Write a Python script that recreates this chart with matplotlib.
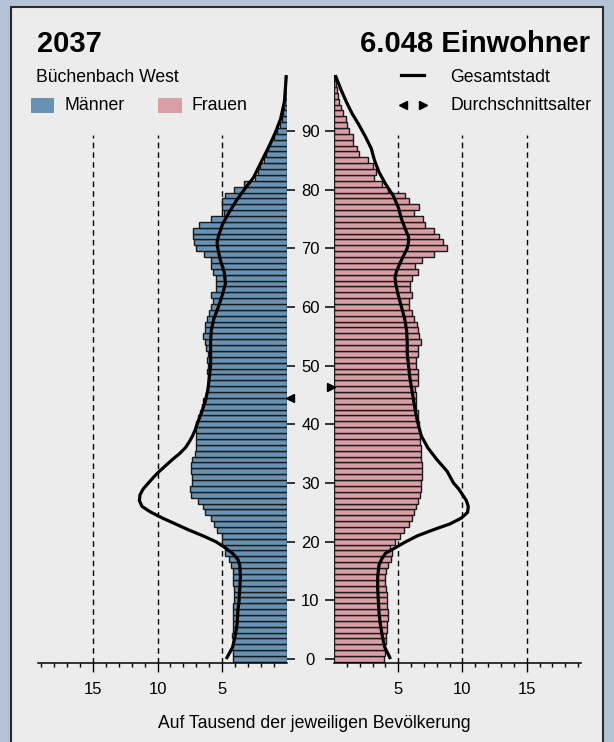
import matplotlib.pyplot as plt
from matplotlib.patches import Rectangle
from matplotlib.lines import Line2D
from matplotlib.transforms import blended_transform_factory

plt.rcParams['font.family'] = ['Liberation Sans', 'DejaVu Sans']

# Per-mille share of each age year, 0..99 (Büchenbach West, 2037)
ages = list(range(100))
male = [4.15, 4.2, 4.25, 4.2, 4.25, 4.2, 4.2, 4.2, 4.2, 4.15,
        4.1, 4.1, 4.1, 4.2, 4.15, 4.2, 4.35, 4.5, 4.75, 4.8,
        5.05, 5.05, 5.4, 5.6, 5.9, 6.35, 6.45, 6.9, 7.4, 7.5,
        7.35, 7.35, 7.4, 7.4, 7.3, 7.1, 7.05, 7.05, 7.05, 7.0,
        7.0, 6.85, 6.7, 6.6, 6.45, 6.25, 6.2, 6.1, 6.1, 6.2,
        6.1, 6.2, 6.1, 6.25, 6.3, 6.5, 6.3, 6.35, 6.2, 6.0,
        5.9, 5.75, 5.85, 5.5, 5.5, 5.5, 5.75, 5.85, 5.9, 6.4,
        7.05, 7.15, 7.25, 7.25, 6.8, 5.85, 4.9, 5.05, 5.05, 4.75,
        4.1, 3.3, 2.5, 2.24, 2.05, 1.8, 1.66, 1.45, 1.3, 1.0,
        0.74, 0.53, 0.4, 0.34, 0.26, 0.2, 0.16, 0.16, 0.13, 0.13]
female = [3.9, 3.95, 3.95, 4.05, 4.05, 4.1, 4.15, 4.2, 4.2, 4.15,
          4.15, 4.1, 4.05, 3.95, 3.95, 4.05, 4.2, 4.4, 4.5, 4.35,
          4.75, 5.1, 5.45, 5.8, 6.05, 6.25, 6.4, 6.55, 6.7, 6.75,
          6.8, 6.85, 6.85, 6.85, 6.8, 6.75, 6.75, 6.7, 6.7, 6.65,
          6.6, 6.55, 6.5, 6.4, 6.4, 6.35, 6.3, 6.5, 6.5, 6.5,
          6.4, 6.4, 6.5, 6.5, 6.75, 6.65, 6.55, 6.45, 6.25, 6.1,
          5.8, 5.85, 6.1, 5.9, 5.95, 6.1, 6.55, 6.3, 6.85, 7.75,
          8.8, 8.5, 8.15, 7.8, 7.1, 6.95, 6.25, 6.65, 5.8, 5.5,
          4.2, 3.7, 3.1, 3.25, 3.0, 2.65, 1.95, 1.8, 1.5, 1.5,
          1.2, 1.05, 0.9, 0.7, 0.55, 0.4, 0.3, 0.2, 0.15, 0.1]

# Gesamtstadt (whole city) reference profile
city_m_ages = [0, 2, 4, 6, 8, 10, 12, 14, 16, 17, 18, 19, 20, 21, 22, 23, 24, 25,
               26, 27, 28, 29, 30, 31, 32, 33, 34, 35, 36, 37, 38, 39, 40, 42, 44,
               46, 48, 50, 52, 54, 56, 58, 60, 62, 64, 66, 68, 70, 71, 72, 74, 76,
               78, 80, 82, 84, 86, 88, 90, 92, 95, 99.5]
city_m = [4.7, 4.2, 4.0, 3.85, 3.8, 3.7, 3.65, 3.6, 3.65, 3.8, 4.2, 4.8, 5.5,
          6.5, 7.6, 8.6, 9.6, 10.5, 11.2, 11.4, 11.35, 11.1, 10.7, 10.3, 9.85,
          9.35, 8.85, 8.3, 7.85, 7.55, 7.3, 7.1, 6.95, 6.6, 6.3, 6.1, 6.0, 5.9,
          5.9, 5.9, 5.85, 5.65, 5.3, 5.0, 4.75, 4.85, 5.15, 5.35, 5.4, 5.3, 5.0,
          4.5, 3.95, 3.3, 2.6, 2.15, 1.7, 1.25, 0.85, 0.5, 0.2, 0.05]
city_f_ages = [0, 2, 4, 6, 8, 10, 12, 14, 16, 17, 18, 19, 20, 21, 22, 23, 24, 25,
               26, 27, 28, 29, 30, 32, 34, 36, 38, 40, 42, 44, 46, 48, 50, 52, 54,
               56, 58, 60, 62, 64, 65, 66, 68, 70, 71, 72, 73, 75, 77, 79, 81, 83,
               85, 87, 89, 91, 93, 95, 97, 99.5]
city_f = [4.4, 3.95, 3.75, 3.6, 3.5, 3.45, 3.4, 3.4, 3.5, 3.7, 4.0, 4.8, 5.6,
          6.5, 7.7, 9.0, 9.9, 10.4, 10.45, 10.3, 10.0, 9.7, 9.3, 8.8, 8.0, 7.3,
          6.8, 6.55, 6.35, 6.2, 6.05, 5.9, 5.8, 5.7, 5.7, 5.65, 5.5, 5.25, 5.0,
          4.8, 4.75, 4.85, 5.25, 5.7, 5.8, 5.8, 5.6, 5.25, 5.0, 4.6, 4.0, 3.5,
          3.15, 2.9, 2.45, 1.95, 1.4, 0.95, 0.55, 0.1]

mean_age_m = 44.5
mean_age_f = 46.4

age_ticks = [0, 10, 20, 30, 40, 50, 60, 70, 80, 90]
x_major = [5, 10, 15]
x_minor = [1, 2, 3, 4, 6, 7, 8, 9, 11, 12, 13, 14, 16, 17, 18, 19]

blue = '#6892b3'
pink = '#da9ea5'
edge = '#1a1a1a'
fs = 12.7

W, H = 614, 742
fig = plt.figure(figsize=(W / 100, H / 100), dpi=100)
fig.patch.set_facecolor('#b4c3d6')
fig.add_artist(Rectangle((11 / W, -0.01), 592 / W, 1 - 7 / H + 0.01,
                         transform=fig.transFigure, facecolor='#ececec',
                         edgecolor='#2b2b2b', lw=1.5, zorder=0))

ylim = (-0.65, 99.6)
ax_bottom = (H - 662.8) / H
ax_height = 588.2 / H
axL = fig.add_axes([38.4 / W, ax_bottom, 248.6 / W, ax_height])
axR = fig.add_axes([334 / W, ax_bottom, 246.7 / W, ax_height])

for ax, vals, col, line_a, line_v in [(axL, male, blue, city_m_ages, city_m),
                                      (axR, female, pink, city_f_ages, city_f)]:
    ax.set_facecolor('none')
    ax.barh(ages, vals, height=1.0, color=col, edgecolor=edge, lw=1.0, zorder=2)
    ax.plot(line_v, line_a, color='black', lw=2.3, zorder=4,
            solid_capstyle='butt', clip_on=False)
    ax.vlines(x_major, ylim[0], 89.3, colors='black', linestyles=(0, (4, 3)),
              lw=1.0, zorder=1, clip_on=False)
    ax.set_ylim(*ylim)
    for s in ['top', 'left', 'right']:
        ax.spines[s].set_visible(False)
    ax.spines['bottom'].set_linewidth(1.1)
    ax.set_xticks(x_major)
    ax.set_xticklabels([str(v) for v in x_major])
    ax.set_xticks(x_minor, minor=True)
    ax.tick_params(axis='x', which='major', direction='out', length=6.5,
                   width=1.0, pad=7, labelsize=12)
    ax.tick_params(axis='x', which='minor', direction='out', length=3.2, width=1.0)
    ax.set_yticks(age_ticks)

axL.set_xlim(19.2, 0)
axR.set_xlim(0, 19.2)
axL.yaxis.tick_right()
axL.tick_params(axis='y', direction='out', length=6, width=1.1, labelright=False)
axR.tick_params(axis='y', direction='out', length=6.5, width=1.1, labelleft=False)

# age labels between the two halves
trans = blended_transform_factory(fig.transFigure, axL.transData)
for a in age_ticks:
    fig.text(310.5 / W, a, str(a), transform=trans, ha='center',
             va='center_baseline', fontsize=12)

# mean age markers
axL.plot([-0.2], [mean_age_m], marker='<', color='black', ms=6, clip_on=False, zorder=5)
axR.plot([-0.25], [mean_age_f], marker='>', color='black', ms=6, clip_on=False, zorder=5)

# titles
fig.text(37 / W, 1 - 52 / H, '2037', fontsize=21, fontweight='bold', va='baseline')
fig.text(590 / W, 1 - 52 / H, '6.048 Einwohner', fontsize=21, fontweight='bold',
         ha='right', va='baseline')
fig.text(36 / W, 1 - 82 / H, 'Büchenbach West', fontsize=fs, va='baseline')

# legend
fig.add_artist(Rectangle((31 / W, 1 - 113 / H), 23 / W, 15 / H, transform=fig.transFigure,
                         facecolor=blue, edgecolor='none'))
fig.add_artist(Rectangle((158 / W, 1 - 113 / H), 24 / W, 15 / H, transform=fig.transFigure,
                         facecolor=pink, edgecolor='none'))
fig.text(65 / W, 1 - 105.5 / H, 'Männer', fontsize=fs, va='center')
fig.text(192 / W, 1 - 105.5 / H, 'Frauen', fontsize=fs, va='center')
fig.add_artist(Line2D([401 / W, 424 / W], [1 - 75 / H, 1 - 75 / H], color='black',
                      lw=2.3, transform=fig.transFigure))
fig.add_artist(Line2D([403 / W], [1 - 105 / H], marker='<', color='black', ms=6,
                      transform=fig.transFigure))
fig.add_artist(Line2D([423 / W], [1 - 105 / H], marker='>', color='black', ms=6,
                      transform=fig.transFigure))
fig.text(450 / W, 1 - 77 / H, 'Gesamtstadt', fontsize=fs, va='center')
fig.text(450 / W, 1 - 105.5 / H, 'Durchschnittsalter', fontsize=fs, va='center')

fig.text(314 / W, 1 - 728 / H, 'Auf Tausend der jeweiligen Bevölkerung',
         fontsize=fs, ha='center', va='baseline')

fig.savefig('out.png', dpi=100, facecolor=fig.get_facecolor())
